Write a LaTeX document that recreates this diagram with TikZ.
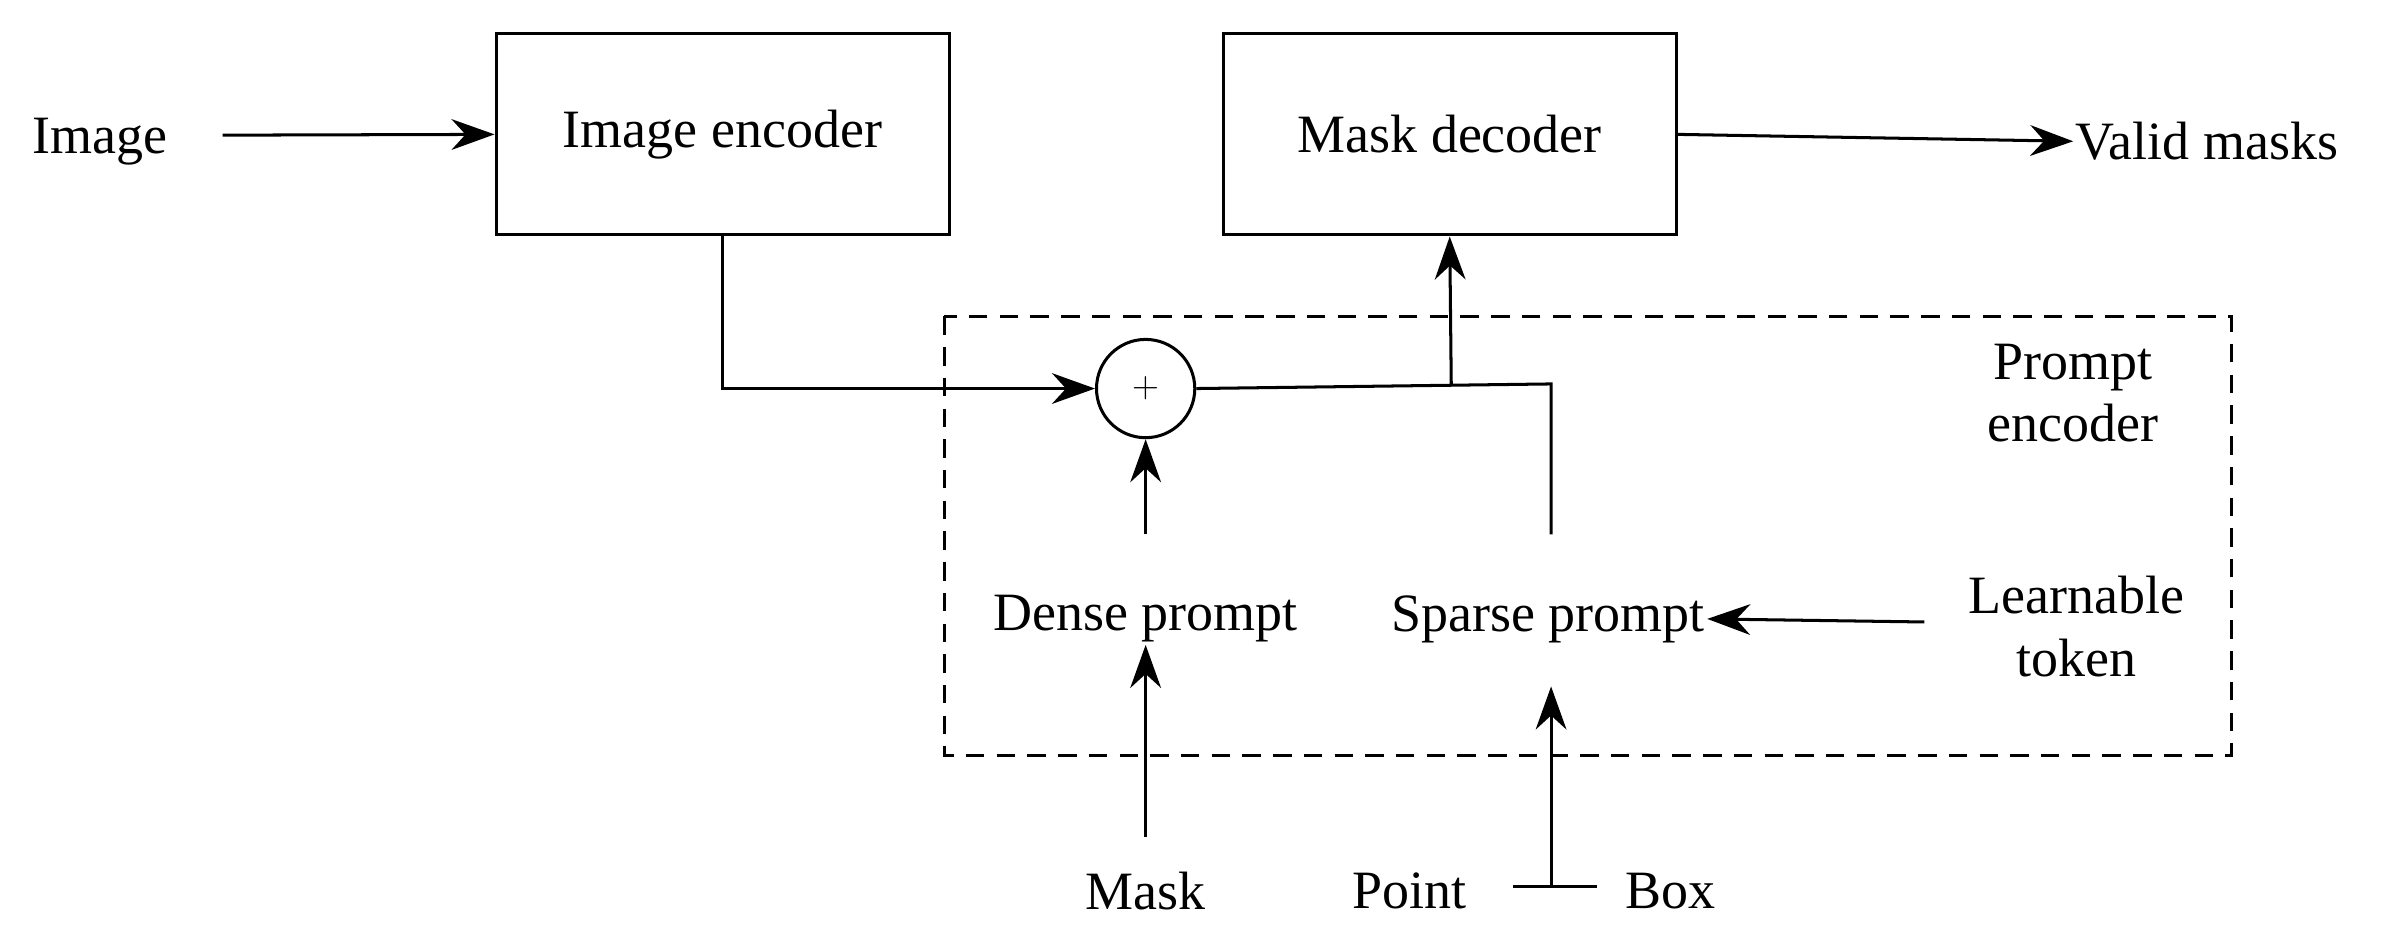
\documentclass[tikz,border=0pt]{standalone}
\usepackage{fontspec}
\setmainfont{Liberation Serif}
\usetikzlibrary{arrows.meta}
\begin{document}
\begin{tikzpicture}[x=0.25mm,y=-0.25mm,
  every node/.style={font=\fontsize{25}{29}\selectfont},
  box/.style={draw,line width=1.4pt,minimum width=73.75mm,minimum height=32.75mm,inner sep=0pt},
  lbl/.style={inner sep=1pt,align=center},
  ln/.style={line width=1.4pt},
  ar/.style={ln,-{Stealth[length=7mm,width=5mm]}}]
\useasboundingbox (0,0) rectangle (1568,609);
\node[box] (ie) at (470.5,87.5) {Image encoder};
\node[box] (md) at (944,87.5) {Mask decoder};
\node[lbl] (img) at (65,92) {Image};
\node[lbl,anchor=west] (vm) at (1350,92) {Valid masks};
\draw[ln,dashed,dash pattern=on 3mm off 2mm] (615,206) rectangle (1453,492);
\node[draw,circle,line width=1.4pt,minimum size=16mm,inner sep=0pt,font=\fontsize{18}{20}\selectfont] (plus) at (746,253) {$+$};
\node[lbl] (pe) at (1350,256) {Prompt\\encoder};
\node[lbl] (dp) at (746,403) {Dense prompt};
\node[lbl] (sp) at (1008,403) {Sparse prompt};
\node[lbl] (lt) at (1352,408) {Learnable\\token};
\node[lbl] (mask) at (746,580) {Mask};
\node[lbl] (pt) at (918,580) {Point};
\node[lbl] (bx) at (1088,580) {Box};
\coordinate (j) at (945,250);
\coordinate (sj) at (1010,577);
\draw[ar] (145,88) -- (ie.west);
\draw[ar] (md.east) -- (vm.west);
\draw[ar] (ie.south) |- (plus.west);
\draw[ln] (plus.east) -- (1010,250) -- (1010,348);
\draw[ar] (j) -- (md.south);
\draw[ar] (746,348) -- (plus.south);
\draw[ar] (1253,405) -- (sp.east);
\draw[ar] (746,545) -- (dp.south);
\draw[ln] (985,577) -- (1040,577);
\draw[ar] (sj) -- (1010,447);
\end{tikzpicture}
\end{document}
